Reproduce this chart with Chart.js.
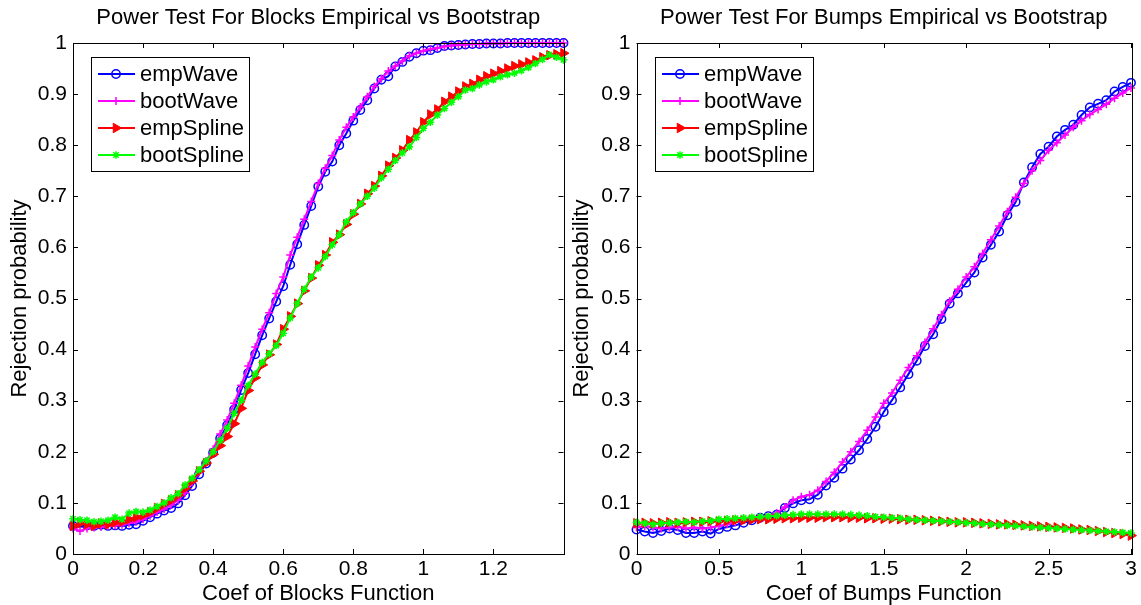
<!DOCTYPE html>
<html>
<head>
<meta charset="utf-8">
<script src="https://cdn.jsdelivr.net/npm/chart.js@4.4.1/dist/chart.umd.min.js"></script>
<style>
  body { margin: 0; background: #fff; }
  .panel { position: absolute; top: 0; }
</style>
</head>
<body>
<div class="panel" style="left:0"><canvas id="blocks" width="570" height="605"></canvas></div>
<div class="panel" style="left:570px"><canvas id="bumps" width="571" height="605"></canvas></div>
<script>
// series names
const seriesNames = ['empWave', 'bootWave', 'empSpline', 'bootSpline'];

// Blocks: coef 0 .. 1.4, step 0.02
const blocksStep = 0.02;
const empWaveBlocks = [0.055,0.053,0.056,0.055,0.057,0.055,0.056,0.055,0.057,0.058,
  0.065,0.072,0.079,0.085,0.090,0.099,0.115,0.133,0.156,0.177,
  0.198,0.226,0.252,0.283,0.321,0.354,0.391,0.428,0.461,0.494,
  0.524,0.566,0.606,0.644,0.681,0.719,0.748,0.768,0.800,0.823,
  0.848,0.869,0.888,0.911,0.928,0.935,0.954,0.963,0.973,0.980,
  0.985,0.986,0.990,0.994,0.995,0.996,0.997,0.998,0.998,0.999,
  0.999,0.999,1.000,1.000,1.000,1.000,1.000,1.000,1.000,1.000,1.000];
const bootWaveBlocks = [0.050,0.045,0.050,0.052,0.053,0.055,0.056,0.057,0.060,0.063,
  0.068,0.075,0.082,0.088,0.096,0.105,0.120,0.140,0.160,0.182,
  0.205,0.235,0.262,0.295,0.330,0.368,0.405,0.440,0.472,0.510,
  0.542,0.585,0.620,0.655,0.690,0.725,0.755,0.780,0.810,0.835,
  0.855,0.875,0.895,0.915,0.930,0.945,0.955,0.965,0.975,0.980,
  0.985,0.988,0.990,0.993,0.995,0.996,0.997,0.998,0.998,0.999,
  0.999,0.999,1.000,1.000,1.000,1.000,1.000,1.000,1.000,1.000,1.000];
const empSplineBlocks = [0.055,0.060,0.058,0.055,0.060,0.058,0.062,0.063,0.068,0.072,
  0.076,0.082,0.090,0.098,0.105,0.115,0.128,0.143,0.162,0.178,
  0.195,0.212,0.230,0.255,0.285,0.320,0.345,0.370,0.390,0.410,
  0.440,0.465,0.490,0.515,0.540,0.565,0.585,0.610,0.625,0.645,
  0.665,0.685,0.705,0.720,0.740,0.760,0.775,0.790,0.810,0.825,
  0.845,0.860,0.870,0.885,0.895,0.905,0.915,0.920,0.928,0.935,
  0.940,0.945,0.950,0.955,0.958,0.962,0.966,0.972,0.976,0.978,0.980];
const bootSplineBlocks = [0.069,0.067,0.066,0.063,0.064,0.066,0.072,0.068,0.080,0.083,
  0.082,0.086,0.093,0.100,0.110,0.118,0.135,0.148,0.165,0.182,
  0.200,0.222,0.246,0.275,0.301,0.330,0.352,0.375,0.392,0.408,
  0.432,0.462,0.490,0.518,0.542,0.560,0.582,0.605,0.625,0.650,
  0.668,0.685,0.700,0.716,0.736,0.753,0.770,0.785,0.797,0.815,
  0.833,0.845,0.859,0.872,0.884,0.895,0.908,0.911,0.918,0.924,
  0.928,0.934,0.938,0.941,0.946,0.952,0.960,0.968,0.977,0.972,0.967];

// Bumps: coef 0 .. 3, step 0.05
const bumpsStep = 0.05;
const empWaveBumps = [0.048,0.044,0.041,0.045,0.050,0.047,0.041,0.041,0.044,0.040,
  0.049,0.053,0.056,0.061,0.066,0.071,0.074,0.077,0.090,0.099,
  0.105,0.107,0.116,0.134,0.149,0.167,0.185,0.203,0.225,0.249,
  0.278,0.301,0.326,0.352,0.378,0.407,0.430,0.460,0.490,0.510,
  0.531,0.551,0.580,0.605,0.631,0.663,0.689,0.727,0.757,0.783,
  0.797,0.817,0.830,0.840,0.859,0.874,0.881,0.888,0.905,0.914,0.922];
const bootWaveBumps = [0.052,0.055,0.052,0.050,0.052,0.053,0.050,0.052,0.050,0.052,
  0.055,0.058,0.062,0.066,0.069,0.072,0.075,0.080,0.092,0.105,
  0.112,0.116,0.125,0.142,0.160,0.180,0.200,0.220,0.242,0.268,
  0.295,0.315,0.340,0.365,0.388,0.414,0.441,0.468,0.495,0.518,
  0.542,0.562,0.588,0.615,0.642,0.670,0.698,0.725,0.750,0.770,
  0.790,0.805,0.820,0.835,0.848,0.860,0.870,0.880,0.892,0.902,0.912];
const empSplineBumps = [0.060,0.061,0.060,0.061,0.062,0.061,0.062,0.063,0.063,0.064,
  0.064,0.065,0.066,0.066,0.067,0.068,0.068,0.069,0.070,0.070,
  0.071,0.071,0.071,0.072,0.072,0.072,0.071,0.071,0.070,0.070,
  0.069,0.069,0.068,0.067,0.067,0.066,0.065,0.064,0.063,0.062,
  0.062,0.061,0.060,0.059,0.058,0.058,0.057,0.056,0.055,0.054,
  0.053,0.052,0.051,0.050,0.048,0.047,0.045,0.043,0.041,0.039,0.036];
const bootSplineBumps = [0.062,0.060,0.058,0.060,0.061,0.062,0.063,0.062,0.064,0.065,
  0.068,0.069,0.070,0.071,0.072,0.073,0.074,0.075,0.076,0.077,
  0.078,0.078,0.078,0.078,0.078,0.078,0.077,0.076,0.075,0.073,
  0.072,0.071,0.070,0.068,0.067,0.066,0.065,0.064,0.063,0.062,
  0.061,0.060,0.059,0.058,0.057,0.056,0.055,0.054,0.053,0.052,
  0.051,0.050,0.049,0.048,0.047,0.046,0.045,0.044,0.043,0.042,0.041];

const FONT = '"Liberation Sans", Arial, Helvetica, sans-serif';

// MATLAB-ish line styles
const styles = [
  { color: '#0000ff', pointStyle: 'circle',   radius: 4.2, rotation: 0,  fill: 'rgba(0,0,0,0)', pbw: 1.5 },
  { color: '#ff00ff', pointStyle: 'cross',    radius: 4,   rotation: 0,  fill: '#ff00ff', pbw: 1.5 },
  { color: '#ff0000', pointStyle: 'triangle', radius: 5.5, rotation: 90, fill: '#ff0000', pbw: 1 },
  { color: '#00ff00', pointStyle: 'star',     radius: 3.8, rotation: 0,  fill: '#00ff00', pbw: 1.5 }
];

function toPoints(values, step) {
  return values.map((v, i) => ({ x: +(i * step).toFixed(3), y: v }));
}

function makeDatasets(seriesList, step) {
  return seriesList.map((vals, i) => {
    const s = styles[i];
    return {
      label: seriesNames[i],
      data: toPoints(vals, step),
      borderColor: s.color,
      backgroundColor: s.fill,
      borderWidth: 2,
      pointStyle: s.pointStyle,
      pointRadius: s.radius,
      pointRotation: s.rotation,
      pointBackgroundColor: s.fill,
      pointBorderColor: s.color,
      pointBorderWidth: s.pbw,
      tension: 0,
      clip: false,
      order: 3 - i
    };
  });
}

// title centred over the axes box
const panelTitle = {
  id: 'panelTitle',
  afterDraw(chart, args, opts) {
    const { ctx, chartArea: a } = chart;
    ctx.save();
    ctx.font = '22px ' + FONT;
    ctx.fillStyle = '#000';
    ctx.textAlign = 'center';
    ctx.textBaseline = 'middle';
    ctx.fillText(opts.text, (a.left + a.right) / 2, 18);
    ctx.restore();
  }
};

// box + inward tick marks like MATLAB axes
const frame = {
  id: 'frame',
  afterDatasetsDraw(chart) {
    const { ctx, chartArea: a, scales: { x, y } } = chart;
    const tl = 5;
    ctx.save();
    ctx.strokeStyle = '#000';
    ctx.lineWidth = 1;
    ctx.strokeRect(Math.round(a.left) + 0.5, Math.round(a.top) + 0.5,
      Math.round(a.right - a.left), Math.round(a.bottom - a.top));
    ctx.beginPath();
    x.ticks.forEach(t => {
      const px = Math.round(x.getPixelForValue(t.value)) + 0.5;
      ctx.moveTo(px, a.bottom); ctx.lineTo(px, a.bottom - tl);
      ctx.moveTo(px, a.top); ctx.lineTo(px, a.top + tl);
    });
    y.ticks.forEach(t => {
      const py = Math.round(y.getPixelForValue(t.value)) + 0.5;
      ctx.moveTo(a.left, py); ctx.lineTo(a.left + tl, py);
      ctx.moveTo(a.right, py); ctx.lineTo(a.right - tl, py);
    });
    ctx.stroke();
    ctx.restore();
  }
};

// legend box in the upper left corner of the axes
const legendBox = {
  id: 'legendBox',
  afterDraw(chart) {
    const { ctx, chartArea: a } = chart;
    const x0 = Math.round(a.left) + 18, y0 = Math.round(a.top) + 14, w = 158, h = 114;
    ctx.save();
    ctx.fillStyle = '#fff';
    ctx.fillRect(x0, y0, w, h);
    ctx.strokeStyle = '#000';
    ctx.lineWidth = 1;
    ctx.strokeRect(x0 + 0.5, y0 + 0.5, w, h);
    ctx.font = '22px ' + FONT;
    ctx.textBaseline = 'middle';
    chart.data.datasets.forEach((ds, i) => {
      const cy = y0 + 17 + i * 27;
      ctx.strokeStyle = ds.borderColor;
      ctx.lineWidth = 2;
      ctx.beginPath();
      ctx.moveTo(x0 + 7, cy);
      ctx.lineTo(x0 + 44, cy);
      ctx.stroke();
      ctx.fillStyle = ds.pointBackgroundColor;
      ctx.lineWidth = ds.pointBorderWidth;
      Chart.helpers.drawPoint(ctx, {
        pointStyle: ds.pointStyle, radius: ds.pointRadius,
        rotation: ds.pointRotation, borderWidth: ds.pointBorderWidth
      }, x0 + 25, cy);
      ctx.fillStyle = '#000';
      ctx.fillText(ds.label, x0 + 49, cy + 1);
    });
    ctx.restore();
  }
};

function fmt(v) { return String(+(+v).toFixed(2)); }

function makeChart(id, cfg) {
  return new Chart(document.getElementById(id), {
    type: 'line',
    data: { datasets: makeDatasets(cfg.series, cfg.step) },
    plugins: [panelTitle, frame, legendBox],
    options: {
      responsive: false,
      animation: false,
      events: [],
      layout: { padding: { left: 0, right: cfg.padRight, top: 43, bottom: 0 } },
      plugins: {
        legend: { display: false },
        tooltip: { enabled: false },
        title: { display: false },
        panelTitle: { text: cfg.title }
      },
      scales: {
        x: {
          type: 'linear',
          min: 0,
          max: cfg.xMax,
          grid: { display: false, drawTicks: false },
          border: { display: false },
          ticks: {
            stepSize: cfg.xStep,
            color: '#000',
            padding: 3,
            maxRotation: 0,
            autoSkip: false,
            font: { family: FONT, size: 21 },
            callback: v => fmt(v)
          },
          afterBuildTicks: s => { s.ticks = s.ticks.filter(t => t.value <= cfg.xLastTick + 1e-9); },
          afterFit: s => { s.height = 51; },
          title: {
            display: true,
            text: cfg.xTitle,
            color: '#000',
            font: { family: FONT, size: 22, lineHeight: 1 },
            padding: { top: 0, bottom: 0 }
          }
        },
        y: {
          min: 0,
          max: 1,
          grid: { display: false, drawTicks: false },
          border: { display: false },
          ticks: {
            stepSize: 0.1,
            color: '#000',
            padding: 6,
            font: { family: FONT, size: 21 },
            callback: v => fmt(v)
          },
          afterFit: s => { s.width = cfg.yWidth; },
          title: {
            display: true,
            text: 'Rejection probability',
            color: '#000',
            font: { family: FONT, size: 22, lineHeight: 1 },
            padding: { top: cfg.yTitlePad, bottom: 0 }
          }
        }
      }
    }
  });
}

makeChart('blocks', {
  title: 'Power Test For Blocks Empirical vs Bootstrap',
  xTitle: 'Coef of Blocks Function',
  series: [empWaveBlocks, bootWaveBlocks, empSplineBlocks, bootSplineBlocks],
  step: blocksStep,
  xMax: 1.4, xStep: 0.2, xLastTick: 1.2,
  yWidth: 73, padRight: 5, yTitlePad: 9
});

makeChart('bumps', {
  title: 'Power Test For Bumps Empirical vs Bootstrap',
  xTitle: 'Coef of Bumps Function',
  series: [empWaveBumps, bootWaveBumps, empSplineBumps, bootSplineBumps],
  step: bumpsStep,
  xMax: 3, xStep: 0.5, xLastTick: 3,
  yWidth: 66.5, padRight: 10, yTitlePad: 1
});
</script>
</body>
</html>
